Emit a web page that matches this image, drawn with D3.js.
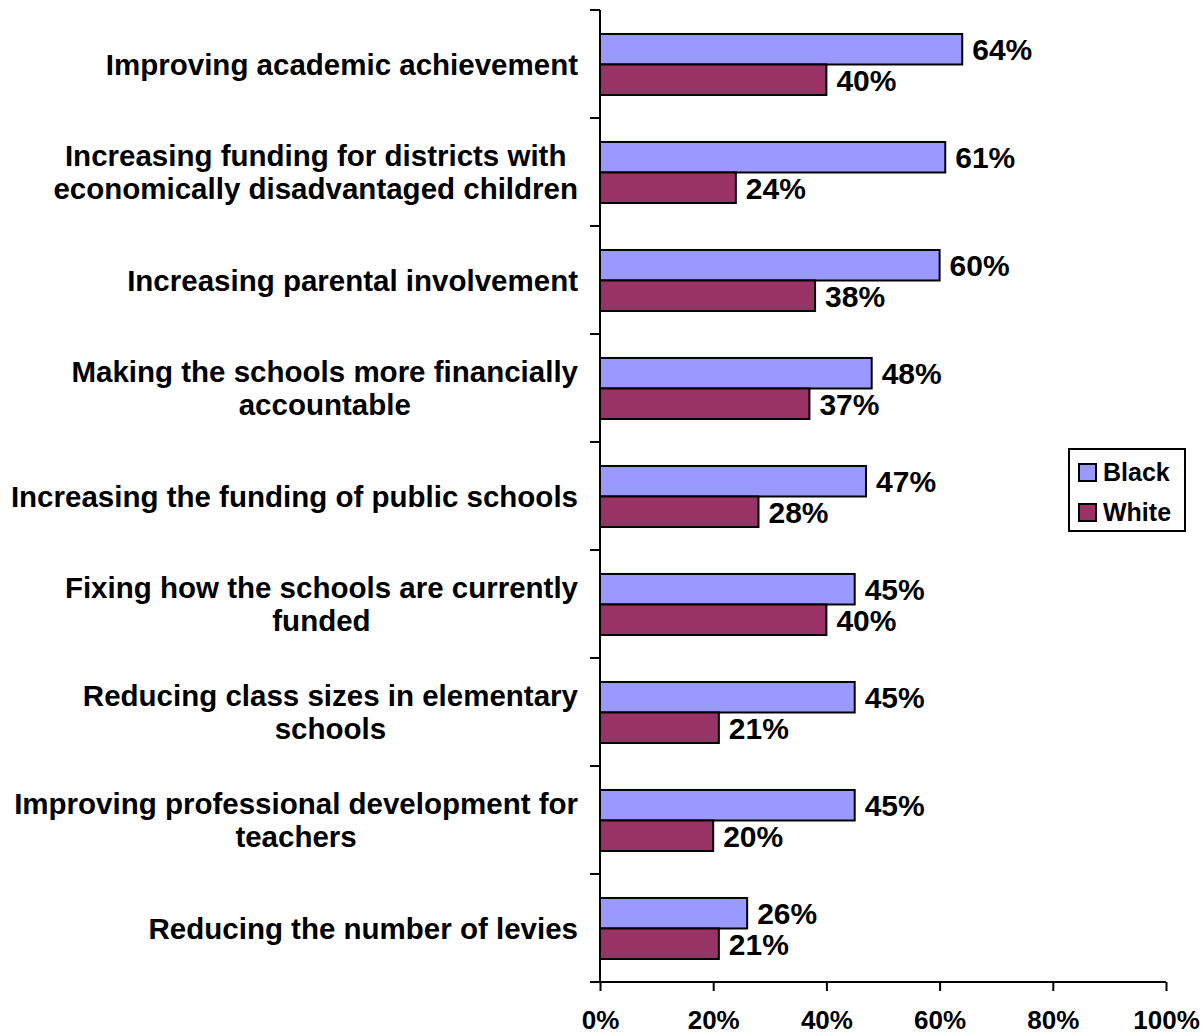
<!DOCTYPE html>
<html>
<head>
<meta charset="utf-8">
<script src="https://cdn.jsdelivr.net/npm/d3@7"></script>
<style>
  html, body { margin: 0; padding: 0; background: #fff; }
  svg { display: block; }
  text { font-family: "Liberation Sans", Arial, sans-serif; font-weight: bold; fill: #000; }
</style>
</head>
<body>
<svg id="chart" width="1203" height="1034"></svg>
<script>
const categories = [
  ["Improving academic achievement"],
  ["Increasing funding for districts with", "economically disadvantaged children"],
  ["Increasing parental involvement"],
  ["Making the schools more financially", "accountable"],
  ["Increasing the funding of public schools"],
  ["Fixing how the schools are currently", "funded"],
  ["Reducing class sizes in elementary", "schools"],
  ["Improving professional development for", "teachers"],
  ["Reducing the number of levies"]
];
const seriesNames = ["Black", "White"];
const blackValues = [64, 61, 60, 48, 47, 45, 45, 45, 26];
const whiteValues = [40, 24, 38, 37, 28, 40, 21, 20, 21];
const xTicks = [0, 20, 40, 60, 80, 100];
const colors = { Black: "#9999FF", White: "#993366" };

const svg = d3.select("#chart");
const catKeys = categories.map((c, i) => "c" + i);

const x = d3.scaleLinear().domain([0, 100]).range([600, 1166]);
const y0 = d3.scaleBand().domain(catKeys).range([10, 982]).paddingInner(0).paddingOuter(0);
const bw = y0.bandwidth();
const y1 = d3.scaleBand().domain(seriesNames).range([bw * 0.222, bw * 0.787]);

const data = catKeys.map((k, i) => ({ key: k, lines: categories[i], Black: blackValues[i], White: whiteValues[i] }));

// Bars
const groups = svg.append("g").selectAll("g").data(data).join("g")
  .attr("transform", d => `translate(0,${y0(d.key)})`);

groups.selectAll("rect").data(d => seriesNames.map(s => ({ s, v: d[s] }))).join("rect")
  .attr("x", x(0))
  .attr("y", d => y1(d.s))
  .attr("width", d => x(d.v) - x(0))
  .attr("height", y1.bandwidth())
  .attr("fill", d => colors[d.s])
  .attr("stroke", "#000")
  .attr("stroke-width", 2);

groups.selectAll("text.val").data(d => seriesNames.map(s => ({ s, v: d[s] }))).join("text")
  .attr("class", "val")
  .attr("x", d => x(d.v) + 10)
  .attr("y", d => y1(d.s) + y1.bandwidth() / 2)
  .attr("dy", "0.36em")
  .style("font-size", "30px")
  .text(d => d.v + "%");

// Category labels
const labelRight = 578;
groups.each(function(d) {
  const g = d3.select(this);
  const lh = 33;
  const n = d.lines.length;
  const tg = g.append("g");
  const texts = d.lines.map((line, j) => tg.append("text")
    .attr("y", bw / 2 + (j - (n - 1) / 2) * lh)
    .attr("dy", "0.36em")
    .attr("text-anchor", "middle")
    .style("font-size", "29.5px")
    .text(line));
  const maxW = d3.max(texts, t => t.node().getComputedTextLength());
  texts.forEach(t => t.attr("x", labelRight - maxW / 2));
});

// Y axis
svg.append("line").attr("x1", x(0)).attr("x2", x(0)).attr("y1", 10).attr("y2", 982)
  .attr("stroke", "#000").attr("stroke-width", 2);
const boundaries = catKeys.map(k => y0(k)).concat([y0.range()[1]]);
svg.append("g").selectAll("line").data(boundaries).join("line")
  .attr("x1", x(0) - 10).attr("x2", x(0)).attr("y1", d => d).attr("y2", d => d)
  .attr("stroke", "#000").attr("stroke-width", 2);

// X axis
const xAxis = d3.axisBottom(x).tickValues(xTicks).tickSize(9).tickPadding(10).tickFormat(d => d + "%");
const xg = svg.append("g").attr("transform", "translate(0,982)").call(xAxis);
xg.select(".domain").attr("stroke", "#000").attr("stroke-width", 2).attr("d", `M${x(0) - 10},0H${x(100)}`);
xg.selectAll(".tick line").attr("stroke", "#000").attr("stroke-width", 2);
xg.selectAll(".tick text")
  .style("font-family", '"Liberation Sans", Arial, sans-serif')
  .style("font-weight", "bold")
  .style("font-size", "26px")
  .attr("fill", "#000")
  .attr("y", 29)
  .attr("dy", "0.71em");

// Legend
const lg = svg.append("g");
lg.append("rect").attr("x", 1069).attr("y", 449).attr("width", 116).attr("height", 82)
  .attr("fill", "#fff").attr("stroke", "#000").attr("stroke-width", 2);
seriesNames.forEach((s, i) => {
  const cy = 472 + i * 40;
  lg.append("rect").attr("x", 1079).attr("y", cy - 8).attr("width", 17).attr("height", 17)
    .attr("fill", colors[s]).attr("stroke", "#000").attr("stroke-width", 2);
  lg.append("text").attr("x", 1103).attr("y", cy).attr("dy", "0.36em")
    .style("font-size", "25px").text(s);
});
</script>
</body>
</html>
